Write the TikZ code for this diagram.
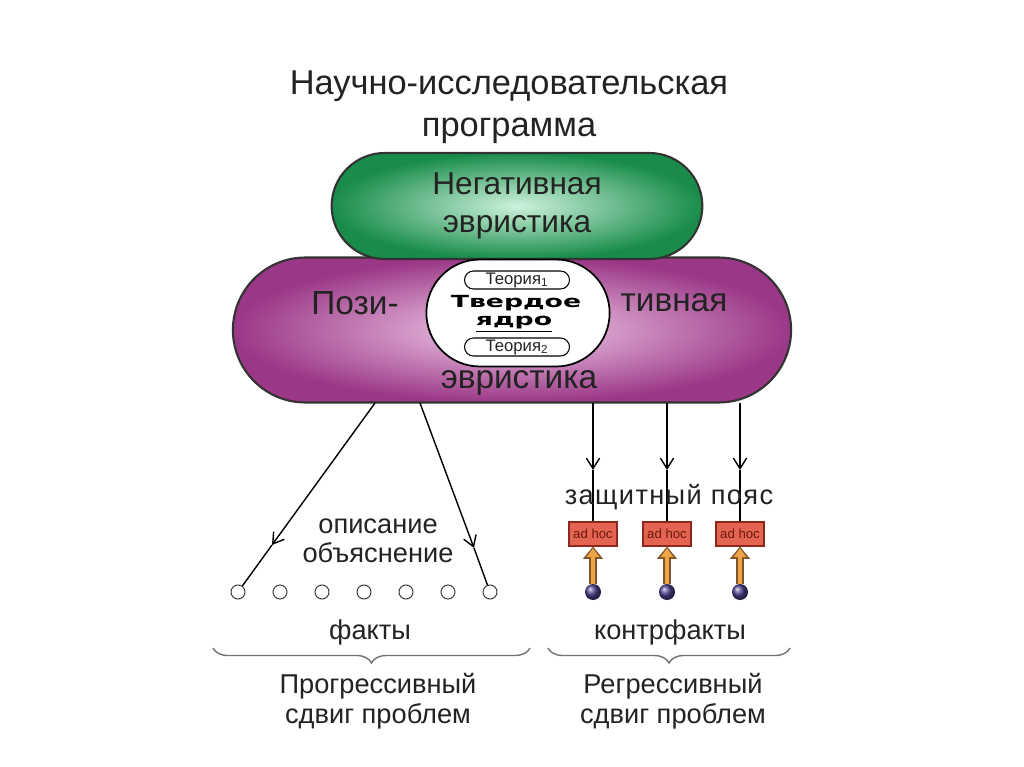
\documentclass[tikz,border=0pt]{standalone}
\usepackage{fontspec}
\setmainfont{Liberation Sans}
\newfontfamily\corefont[FakeStretch=1.6]{DejaVu Sans Bold}
\newfontfamily\beltfont[LetterSpace=5]{Liberation Sans}
\usetikzlibrary{shapes.misc,arrows.meta,decorations.pathreplacing}

\definecolor{textgray}{RGB}{35,35,35}
\definecolor{negdark}{RGB}{25,140,75}
\definecolor{neglight}{RGB}{205,242,220}
\definecolor{posdark}{RGB}{155,55,135}
\definecolor{poslight}{RGB}{242,208,236}
\definecolor{boxred}{RGB}{228,100,82}
\definecolor{boxborder}{RGB}{140,40,30}
\definecolor{adhocred}{RGB}{110,25,15}
\definecolor{shaftorange}{RGB}{238,165,70}
\definecolor{shaftbrown}{RGB}{130,85,40}
\definecolor{ballblue}{RGB}{75,65,140}

\tikzset{
  bigtext/.style={text=textgray,font=\fontsize{19}{23}\selectfont,inner sep=0pt},
  smalltext/.style={text=textgray,font=\fontsize{15.5}{17}\selectfont,inner sep=0pt,align=center},
  pill/.style={rounded rectangle,draw=black,line width=0.6pt,fill=white,
    minimum width=2.1cm,minimum height=0.36cm,inner sep=0pt,
    text=textgray,font=\fontsize{9.5}{10}\selectfont},
  fact/.style={circle,draw=black!75,fill=white,line width=0.6pt,minimum size=0.28cm,inner sep=0pt},
  adhoc/.style={rectangle,draw=boxborder,fill=boxred,line width=0.6pt,
    minimum width=0.96cm,minimum height=0.48cm,inner sep=0pt,
    text=adhocred,font=\fontsize{7.5}{8}\selectfont},
  counterball/.style={circle,shading=ball,ball color=ballblue,minimum size=0.32cm,inner sep=0pt},
  arr/.style={line width=0.8pt,-{Straight Barb[length=6pt,width=7.5pt]}},
  outer shaft/.style={line width=4.5pt,draw=shaftbrown,-{Triangle[length=7pt,width=11pt]}},
  inner shaft/.style={line width=2.6pt,draw=shaftorange,shorten >=1pt,-{Triangle[length=5pt,width=7pt]}},
  bracestyle/.style={draw=black!55,line width=0.8pt,decorate,
    decoration={brace,mirror,amplitude=0.3cm}}
}

\begin{document}
\begin{tikzpicture}[x=0.02cm,y=-0.02cm]
  \useasboundingbox[fill=white] (0,0) rectangle (1024,767);

  % Title
  \node[text=textgray,font=\fontsize{19.6}{24}\selectfont,align=center,inner sep=0pt]
    (title) at (509,107) {Научно-исследовательская\\программа};

  % Heuristics
  \node[rounded rectangle,draw=black!80,line width=1.2pt,inner color=poslight,outer color=posdark,
    minimum width=11.4cm,minimum height=2.9cm] (pos) at (512,330) {};
  \node[rounded rectangle,draw=black!80,line width=1.2pt,inner color=neglight,outer color=negdark,
    minimum width=7.65cm,minimum height=2.12cm,align=center,text=textgray,
    font=\fontsize{18}{21.5}\selectfont] (neg) at (517,206) {Негативная\\эвристика};
  \node[bigtext] (pozi) at (355,303) {Пози-};
  \node[bigtext] (tivnaya) at (674,303) {тивная};
  \node[bigtext] (evr) at (519,383) {эвристика};

  % Hard core
  \node[rounded rectangle,draw=black,line width=1pt,fill=white,
    minimum width=3.9cm,minimum height=2.14cm] (core) at (518,313) {};
  \node[pill] (t1) at (517,280) {Теория\textsubscript{1}};
  \node[pill] (t2) at (517,347) {Теория\textsubscript{2}};
  \node[text=black,font=\corefont\fontsize{9.5}{10}\selectfont,inner sep=0pt] (hard) at (516,303) {Твердое};
  \node[text=black,font=\corefont\fontsize{9.5}{10}\selectfont,inner sep=0pt] (kern) at (514,324) {\underline{ядро}};

  % Progressive side
  \coordinate (l1) at (375,403);
  \coordinate (l2) at (420,403);
  \coordinate (m1) at (272,545);
  \coordinate (m2) at (474,548);
  \foreach \i in {1,...,7}
    \node[fact] (f\i) at ({238+42*(\i-1)},592) {};
  \draw[arr] (l1) -- (m1);
  \draw[line width=0.8pt] (m1) -- (f1);
  \draw[arr] (l2) -- (m2);
  \draw[line width=0.8pt] (m2) -- (f7);
  \node[smalltext,font=\fontsize{15.5}{16.5}\selectfont] (desc) at (378,541) {описание\\объяснение};
  \node[smalltext] (facts) at (370,632) {факты};

  % Regressive side
  \foreach \i/\x in {1/593,2/667,3/740} {
    \coordinate (r\i) at (\x,403);
    \coordinate (q\i) at (\x,470);
    \node[adhoc] (h\i) at (\x,534) {ad hoc};
    \node[counterball] (c\i) at (\x,592) {};
    \draw[arr] (r\i) -- (q\i);
    \draw[line width=0.8pt] (q\i) -- (h\i);
    \draw[outer shaft] (c\i) -- (h\i);
    \draw[inner shaft] (c\i) -- (h\i);
  }
  \node[text=textgray,font=\beltfont\fontsize{15.5}{17}\selectfont,inner sep=0pt] (belt) at (669,497) {защитный пояс};
  \node[smalltext] (counter) at (670,632) {контрфакты};

  % Braces
  \coordinate (b1) at (213,648);
  \coordinate (b2) at (530,648);
  \coordinate (b3) at (548,648);
  \coordinate (b4) at (790,648);
  \draw[bracestyle] (b1) -- (b2);
  \draw[bracestyle] (b3) -- (b4);
  \node[smalltext,font=\fontsize{15.5}{17}\selectfont] (prog) at (378,701) {Прогрессивный\\сдвиг проблем};
  \node[smalltext,font=\fontsize{15.5}{17}\selectfont] (regr) at (673,701) {Регрессивный\\сдвиг проблем};
\end{tikzpicture}
\end{document}
